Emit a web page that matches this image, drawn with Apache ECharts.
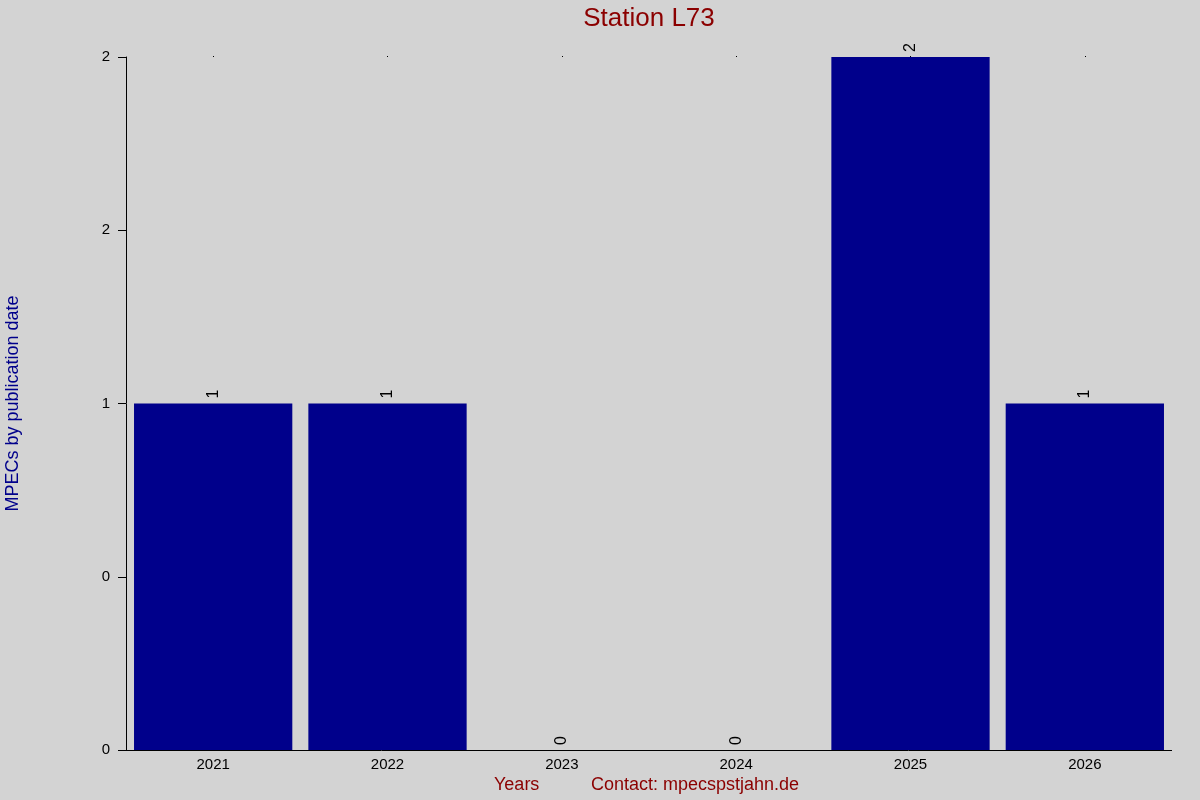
<!DOCTYPE html>
<html>
<head>
<meta charset="utf-8">
<script src="https://cdn.jsdelivr.net/npm/echarts@6/dist/echarts.min.js"></script>
<style>html,body{margin:0;padding:0;background:#d3d3d3;}#c{width:1200px;height:800px;}</style>
</head>
<body>
<div id="c"></div>
<script>
const years = ["2021", "2022", "2023", "2024", "2025", "2026"];
const counts = [1, 1, 0, 0, 2, 1];
const yTickValues = [0, 0.5, 1, 1.5, 2];
const yTickLabels = ["0", "0", "1", "2", "2"];
const titleText = "Station L73";
const yName = "MPECs by publication date";
const xName = "Years";
const contactText = "Contact: mpecspstjahn.de";

const chart = echarts.init(document.getElementById('c'));
const font = 'Liberation Sans, Arial, sans-serif';
chart.setOption({
  backgroundColor: '#d3d3d3',
  animation: false,
  textStyle: { fontFamily: font },
  grid: { left: 126, right: 28, top: 57, bottom: 50, containLabel: false, outerBoundsMode: 'none' },
  xAxis: [{
    type: 'category', data: years,
    axisLine: { show: false },
    axisTick: { show: false },
    axisLabel: { color: '#000', fontSize: 15, margin: 7, fontFamily: font }
  }, {
    type: 'category', data: years, position: 'top',
    axisLine: { show: false },
    axisTick: { show: true, alignWithLabel: true, length: 1, lineStyle: { color: '#000', width: 1 } },
    axisLabel: { show: false }
  }],
  yAxis: {
    type: 'value', min: 0, max: 2, interval: 0.5,
    name: yName, nameLocation: 'middle', nameGap: 104, nameRotate: 90,
    nameTextStyle: { color: '#00008b', fontSize: 18, fontFamily: font },
    axisLine: { show: true, lineStyle: { color: '#000', width: 1 } },
    axisTick: { show: true, length: 8, lineStyle: { color: '#000' } },
    splitLine: { show: false },
    axisLabel: {
      color: '#000', fontSize: 15, margin: 16, fontFamily: font,
      formatter: function (v) { const i = yTickValues.indexOf(v); return i >= 0 ? yTickLabels[i] : ''; }
    }
  },
  series: [{
    type: 'bar', data: counts, barCategoryGap: '9.2%',
    itemStyle: { color: '#00008b' },
    label: {
      show: true, position: 'top', rotate: 90, align: 'left', verticalAlign: 'middle',
      distance: 5, color: '#000', fontSize: 16, fontFamily: font
    }
  }],
  graphic: [
    { type: 'line', shape: { x1: 118, y1: 750.5, x2: 1172, y2: 750.5 }, style: { stroke: '#000', lineWidth: 1 } },
    { type: 'text', x: 649, y: 6, style: { text: titleText, fill: '#8b0000', font: '26px ' + font, textAlign: 'center', textVerticalAlign: 'top' } },
    { type: 'text', left: 494, top: 776, style: { text: xName, fill: '#8b0000', font: '18px ' + font } },
    { type: 'text', left: 591, top: 776, style: { text: contactText, fill: '#8b0000', font: '18px ' + font } }
  ]
});
</script>
</body>
</html>
